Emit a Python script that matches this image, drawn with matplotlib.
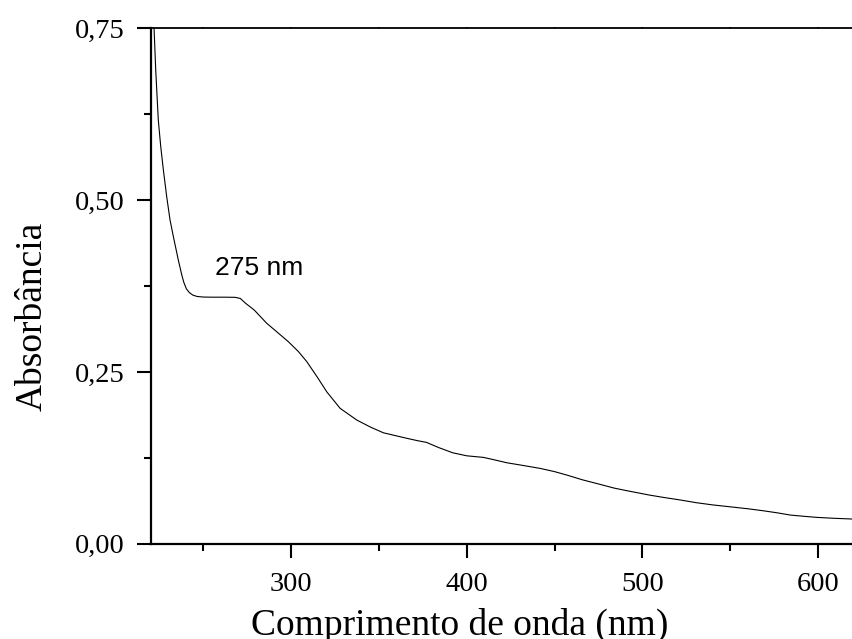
import matplotlib.pyplot as plt
from matplotlib.ticker import MultipleLocator, FuncFormatter

# wavelength (nm) and absorbance
wavelength = [220, 221.9, 222.85, 224.3, 225.7, 227.2, 229.1, 231, 233.3, 235.7,
              237.7, 238.9, 240.3, 242.0, 244.0, 246.5, 250, 255, 262, 268,
              271, 274, 279, 286, 292, 298.4, 304, 308.9, 315, 320.3,
              327.9, 337.4, 345, 352.5, 360, 366, 372, 377, 384, 392,
              400, 409.5, 416, 422.8, 432, 441.8, 450, 457, 466, 476,
              484, 491.5, 504, 512, 521, 531, 540, 550, 560, 569,
              577, 584.3, 592, 599.5, 610, 620]
absorbance = [0.79, 0.75, 0.689, 0.617, 0.578, 0.544, 0.505, 0.471, 0.442, 0.413,
              0.391, 0.380, 0.371, 0.3655, 0.3618, 0.3598, 0.3590, 0.3588, 0.3588, 0.3586,
              0.357, 0.350, 0.340, 0.321, 0.308, 0.294, 0.280, 0.265, 0.242, 0.221,
              0.197, 0.180, 0.170, 0.1615, 0.157, 0.1534, 0.150, 0.1476, 0.140, 0.1324,
              0.128, 0.1257, 0.122, 0.1179, 0.114, 0.1097, 0.105, 0.100, 0.093, 0.0864,
              0.081, 0.0771, 0.0709, 0.0675, 0.064, 0.0597, 0.0566, 0.0538, 0.051, 0.048,
              0.045, 0.0418, 0.040, 0.0384, 0.037, 0.036]

peak_label = "275 nm"
peak_pos = (256.6, 0.391)

serif = 'Liberation Serif'

fig = plt.figure(figsize=(8.53, 6.39), dpi=100)
ax = fig.add_axes([0.1767, 0.149, 0.8233, 0.8067])

ax.plot(wavelength, absorbance, color='black', lw=0.8)
ax.text(peak_pos[0], peak_pos[1], peak_label, fontsize=19,
        family='Liberation Sans', ha='left', va='baseline')

ax.set_xlim(220, 620)
ax.set_ylim(0, 0.75)

ax.xaxis.set_major_locator(MultipleLocator(100))
ax.xaxis.set_minor_locator(MultipleLocator(50))
ax.yaxis.set_major_locator(MultipleLocator(0.25))
ax.yaxis.set_minor_locator(MultipleLocator(0.125))
ax.yaxis.set_major_formatter(FuncFormatter(lambda v, p: ('%.2f' % v).replace('.', ',')))

ax.spines['right'].set_visible(False)
ax.spines['left'].set_linewidth(1.6)
ax.spines['bottom'].set_linewidth(1.6)
ax.spines['top'].set_linewidth(1.3)

ax.tick_params(axis='both', which='major', direction='out', length=10, width=1.5,
               labelsize=20.5, pad=9)
ax.tick_params(axis='both', which='minor', direction='out', length=5, width=1.5)
ax.tick_params(axis='x', which='both', top=True)
ax.tick_params(axis='x', which='major', pad=10)
for lab in ax.get_xticklabels() + ax.get_yticklabels():
    lab.set_family(serif)
for t in ax.xaxis.get_major_ticks() + ax.xaxis.get_minor_ticks():
    t.tick2line.set_markersize(1)

# axis titles placed in figure pixels, as in the reference
fig.text(251 / 853, 4.5 / 639, "Comprimento de onda (nm)", fontsize=27,
         family=serif, ha='left', va='baseline')
fig.text(41.7 / 853, 1 - 221.7 / 639, "Absorbância", fontsize=27, family=serif,
         rotation=90, rotation_mode='anchor', ha='right', va='baseline')

plt.savefig('out.png', dpi=100)
